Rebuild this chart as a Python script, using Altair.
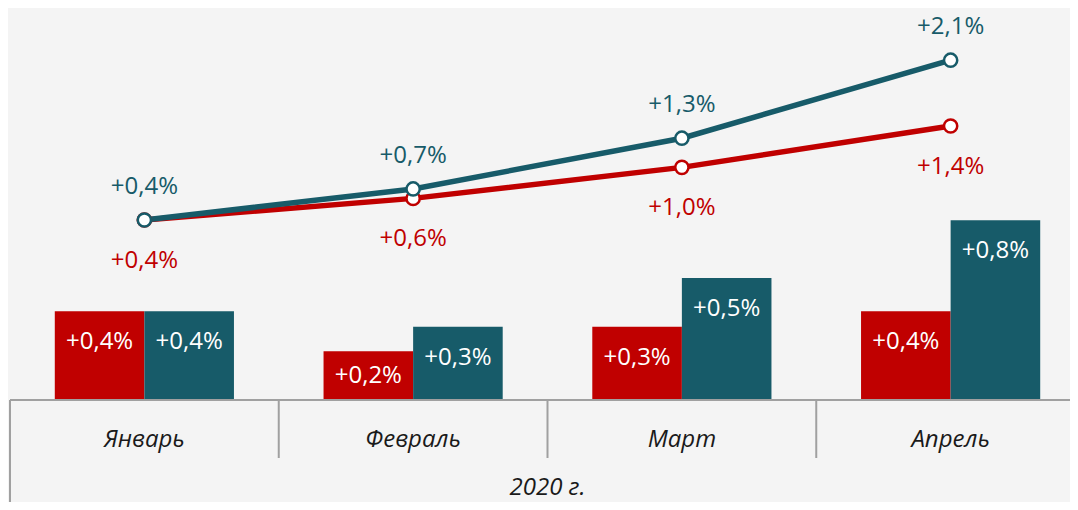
import altair as alt
import pandas as pd

months = ["Январь", "Февраль", "Март", "Апрель"]
year_label = "2020 г."

bar_red = [0.40, 0.22, 0.33, 0.40]
bar_teal = [0.40, 0.33, 0.55, 0.81]
bar_red_labels = ["+0,4%", "+0,2%", "+0,3%", "+0,4%"]
bar_teal_labels = ["+0,4%", "+0,3%", "+0,5%", "+0,8%"]

line_red = [0.40, 0.63, 0.96, 1.40]
line_teal = [0.40, 0.73, 1.27, 2.10]
line_red_labels = ["+0,4%", "+0,6%", "+1,0%", "+1,4%"]
line_teal_labels = ["+0,4%", "+0,7%", "+1,3%", "+2,1%"]

RED = "#c00000"
TEAL = "#175b69"
BG = "#f4f4f4"
AXIS = "#a0a0a0"
FONT = "Open Sans"
FS = 24
FW = 400

W, H = 1062, 494
XDOM = [-2 / 268.75, (W - 2) / 268.75]
YBAR = [-(H - 392) / 222, 392 / 222]
YLINE = [-(H - 249.6) / 94, 249.6 / 94]

bars_rows = []
for i, m in enumerate(months):
    bars_rows.append(dict(month=m, i=i, series="red", value=bar_red[i], label=bar_red_labels[i], x0=i + 1 / 6, x1=i + 0.5, xc=i + 1 / 3, zero=0))
    bars_rows.append(dict(month=m, i=i, series="teal", value=bar_teal[i], label=bar_teal_labels[i], x0=i + 0.5, x1=i + 5 / 6, xc=i + 2 / 3, zero=0))
bars_df = pd.DataFrame(bars_rows)

line_rows = []
for i, m in enumerate(months):
    line_rows.append(dict(month=m, i=i, series="red", value=line_red[i], label=line_red_labels[i], xc=i + 0.5))
    line_rows.append(dict(month=m, i=i, series="teal", value=line_teal[i], label=line_teal_labels[i], xc=i + 0.5))
line_df = pd.DataFrame(line_rows)

month_df = pd.DataFrame({"month": months, "xc": [i + 0.5 for i in range(len(months))]})
sep_df = pd.DataFrame({"xb": list(range(0, len(months))), "zero": 0})
base_df = pd.DataFrame({"xa": [0.0], "xe": [XDOM[1]], "zero": [0.0], "xm": [len(months) / 2], "txt": [year_label]})

xs = alt.Scale(domain=XDOM, nice=False, zero=False)
ybs = alt.Scale(domain=YBAR, nice=False, zero=False)
yls = alt.Scale(domain=YLINE, nice=False, zero=False)
cs = alt.Scale(domain=["red", "teal"], range=[RED, TEAL])

bars = alt.Chart(bars_df).mark_bar().encode(
    x=alt.X("x0:Q", scale=xs, axis=None),
    x2="x1:Q",
    y=alt.Y("value:Q", scale=ybs, axis=None),
    y2="zero:Q",
    color=alt.Color("series:N", scale=cs, legend=None),
)

bar_labels = alt.Chart(bars_df).transform_calculate(
    ly="max(datum.value - 0.14, datum.value / 2)"
).mark_text(font=FONT, fontSize=FS, fontWeight=FW, color="white", baseline="middle").encode(
    x=alt.X("xc:Q", scale=xs, axis=None),
    y=alt.Y("ly:Q", scale=ybs, axis=None),
    text="label:N",
)

baseline = alt.Chart(base_df).mark_rule(color=AXIS, strokeWidth=2).encode(
    x=alt.X("xa:Q", scale=xs, axis=None),
    x2="xe:Q",
    y=alt.Y("zero:Q", scale=ybs, axis=None),
)

seps = alt.Chart(sep_df).mark_rule(color=AXIS, strokeWidth=2).encode(
    x=alt.X("xb:Q", scale=xs, axis=None),
    y=alt.Y("zero:Q", scale=ybs, axis=None),
    y2=alt.value(450),
)

left_edge = alt.Chart(base_df).mark_rule(color=AXIS, strokeWidth=2).encode(
    x=alt.X("xa:Q", scale=xs, axis=None),
    y=alt.Y("zero:Q", scale=ybs, axis=None),
    y2=alt.value(H),
)

month_text = alt.Chart(month_df).mark_text(
    font=FONT, fontSize=FS, fontWeight=FW, fontStyle="italic", color="#1a1a1a", baseline="middle"
).encode(
    x=alt.X("xc:Q", scale=xs, axis=None),
    y=alt.value(432),
    text="month:N",
)

year_text = alt.Chart(base_df).mark_text(
    font=FONT, fontSize=FS, fontWeight=FW, fontStyle="italic", color="#1a1a1a", baseline="alphabetic"
).encode(
    x=alt.X("xm:Q", scale=xs, axis=None),
    y=alt.value(487),
    text="txt:N",
)

lines = alt.Chart(line_df).mark_line(strokeWidth=5.5).encode(
    x=alt.X("xc:Q", scale=xs, axis=None),
    y=alt.Y("value:Q", scale=yls, axis=None),
    color=alt.Color("series:N", scale=cs, legend=None),
    detail="series:N",
)

points = alt.Chart(line_df).mark_point(
    shape="circle", filled=True, fill="white", size=175, strokeWidth=2.5, opacity=1
).encode(
    x=alt.X("xc:Q", scale=xs, axis=None),
    y=alt.Y("value:Q", scale=yls, axis=None),
    stroke=alt.Stroke("series:N", scale=cs, legend=None),
)

teal_labels = alt.Chart(line_df).transform_filter("datum.series == 'teal'").mark_text(
    font=FONT, fontSize=FS, fontWeight=FW, color=TEAL, baseline="middle", dy=-33
).encode(
    x=alt.X("xc:Q", scale=xs, axis=None),
    y=alt.Y("value:Q", scale=yls, axis=None),
    text="label:N",
)

red_labels = alt.Chart(line_df).transform_filter("datum.series == 'red'").mark_text(
    font=FONT, fontSize=FS, fontWeight=FW, color=RED, baseline="middle", dy=41
).encode(
    x=alt.X("xc:Q", scale=xs, axis=None),
    y=alt.Y("value:Q", scale=yls, axis=None),
    text="label:N",
)

chart = alt.layer(
    bars, bar_labels, baseline, seps, left_edge, month_text, year_text,
    lines, points, teal_labels, red_labels,
).resolve_scale(y="independent").properties(
    width=W, height=H, autosize=alt.AutoSizeParams(type="none"), padding=0,
    background=BG,
).configure_view(stroke=None)

chart.save("out.html", embed_options={"renderer": "svg", "actions": False})
